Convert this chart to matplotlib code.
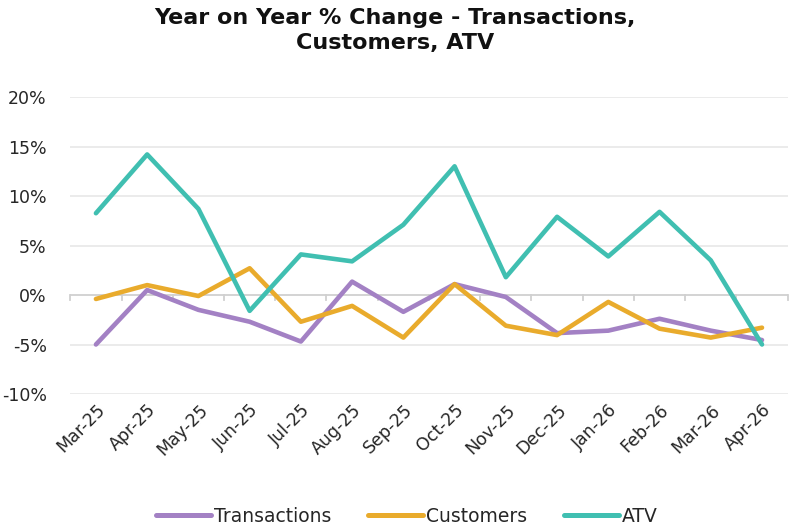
import matplotlib
matplotlib.use("Agg")
import matplotlib.pyplot as plt
from matplotlib.ticker import FuncFormatter

months = ["Mar-25", "Apr-25", "May-25", "Jun-25", "Jul-25", "Aug-25", "Sep-25",
          "Oct-25", "Nov-25", "Dec-25", "Jan-26", "Feb-26", "Mar-26", "Apr-26"]
transactions = [-5.0, 0.5, -1.5, -2.7, -4.7, 1.35, -1.7, 1.1, -0.2, -3.85, -3.6, -2.4, -3.6, -4.55]
customers = [-0.4, 1.0, -0.1, 2.7, -2.7, -1.1, -4.3, 1.1, -3.1, -4.05, -0.7, -3.4, -4.3, -3.3]
atv = [8.26, 14.2, 8.7, -1.6, 4.1, 3.4, 7.1, 13.0, 1.8, 7.9, 3.9, 8.4, 3.5, -5.0]
yticks = [-10, -5, 0, 5, 10, 15, 20]

plt.rcParams['font.family'] = ['DejaVu Sans']

fig = plt.figure(figsize=(7.9, 5.29), dpi=100)
ax = fig.add_axes([0.089, 0.2552, 0.908, 0.5614])

x = list(range(len(months)))
series = [("Transactions", transactions, "#A381C4"),
          ("Customers", customers, "#E9AB2C"),
          ("ATV", atv, "#40BFB1")]
for name, vals, col in series:
    ax.plot(x, vals, color=col, lw=3.3, solid_capstyle='round', solid_joinstyle='round', label=name)

ax.set_xlim(-0.5, len(months) - 0.5)
ax.set_ylim(-10, 20)
ax.set_yticks(yticks)
ax.yaxis.set_major_formatter(FuncFormatter(lambda v, p: f"{int(v)}%"))
for y in yticks:
    if y != 0:
        ax.axhline(y, color="#E8E8E8", lw=1.2, zorder=0)
ax.axhline(0, color="#D0D0D0", lw=1.3, zorder=0.5)
for b in [i - 0.5 for i in range(len(months) + 1)]:
    ax.plot([b, b], [0, -0.5], color="#D0D0D0", lw=1.3, zorder=0.5, clip_on=False)

for s in ax.spines.values():
    s.set_visible(False)
ax.tick_params(axis='y', length=0, labelsize=12.5, pad=17, colors="#262626")
ax.set_xticks(x)
ax.set_xticklabels(months, rotation=45, ha='right', rotation_mode='anchor', fontsize=12.5, color="#262626")
ax.tick_params(axis='x', length=0, pad=5)

fig.text(0.5, 0.985, "Year on Year % Change - Transactions,\nCustomers, ATV",
         ha='center', va='top', fontsize=16, fontweight='bold', linespacing=1.3, color="#111111")

leg = fig.legend(loc='center', bbox_to_anchor=(0.515, 0.024), ncol=3, frameon=False,
                 fontsize=13.5, handlelength=2.9, columnspacing=2.0, handletextpad=0.15,
                 labelcolor="#262626", borderpad=0)
for line in leg.get_lines():
    line.set_solid_capstyle('round')
    line.set_linewidth(3.6)

fig.savefig("out.png", dpi=100)
